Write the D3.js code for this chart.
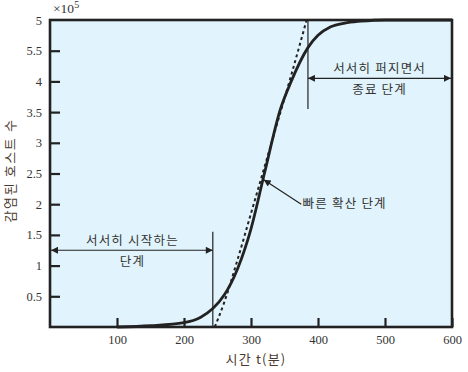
<!DOCTYPE html>
<html>
<head>
<meta charset="utf-8">
<script src="https://cdn.jsdelivr.net/npm/d3@7"></script>
<style>
  body { margin: 0; background: #fff; }
  .tick-label { font-family: "Liberation Serif", serif; font-size: 12.5px; fill: #333; }
  .kor { font-family: "Noto Sans CJK KR", sans-serif; font-size: 12.5px; letter-spacing: 1.2px; fill: #333; }
</style>
</head>
<body>
<svg id="chart" width="468" height="372"></svg>
<script>
// curve (units of 10^5 hosts)
const solidT = [100, 150, 200, 225, 243, 260, 280, 300, 320, 344, 360, 385, 400, 419, 440, 464, 500, 600];
const solidN = [0, 0.02, 0.07, 0.16, 0.3, 0.52, 0.95, 1.6, 2.5, 3.55, 4.0, 4.55, 4.75, 4.89, 4.95, 4.98, 5.0, 5.0];

// dashed straight-ish line through the fast phase
const dashT = [246, 260, 280, 300, 320, 340, 360, 383];
const dashN = [0, 0.4, 1.1, 1.85, 2.6, 3.35, 4.1, 5.0];

const xTicks = [100, 200, 300, 400, 500, 600];
const yTicks = [0.5, 1, 1.5, 2, 2.5, 3, 3.5, 4, 4.5, 5];
const yTickLabels = ["0.5", "1", "1.5", "2", "2.5", "3", "3.5", "4", "5.5", "5"];

const slowStart = 243;
const slowEnd = 385;

const margin = { top: 20, right: 16, bottom: 45, left: 50 };
const W = 468, H = 372;
const width = W - margin.left - margin.right;
const height = H - margin.top - margin.bottom;

const svg = d3.select("#chart");

svg.append("defs").append("marker")
	.attr("id", "arr")
	.attr("viewBox", "0 0 10 10")
	.attr("refX", 10)
	.attr("refY", 5)
	.attr("markerWidth", 9)
	.attr("markerHeight", 7)
	.attr("markerUnits", "userSpaceOnUse")
	.attr("orient", "auto-start-reverse")
	.append("path")
	.attr("d", "M0,0 L10,5 L0,10 Z")
	.attr("fill", "#222");

const g = svg.append("g")
	.attr("transform", `translate(${margin.left}, ${margin.top})`);

const x = d3.scaleLinear().domain([0, 600]).range([0, width]);
const y = d3.scaleLinear().domain([0, 5]).range([height, 0]);

g.append("rect")
	.attr("width", width)
	.attr("height", height)
	.attr("fill", "#e1f3fc");

// ticks pointing inward
const xAxis = g.append("g")
	.attr("transform", `translate(0, ${height})`)
	.call(d3.axisBottom(x).tickValues(xTicks).tickSize(-9).tickPadding(6).tickFormat(d3.format("d")));
xAxis.select(".domain").remove();
xAxis.selectAll("line").attr("stroke", "#222").attr("stroke-width", 2.2);
xAxis.selectAll("text").attr("class", "tick-label").attr("dy", "0.9em");

const yAxis = g.append("g")
	.call(d3.axisLeft(y).tickValues(yTicks).tickSize(-10).tickPadding(8)
		.tickFormat((d, i) => yTickLabels[i]));
yAxis.select(".domain").remove();
yAxis.selectAll("line").attr("stroke", "#222").attr("stroke-width", 2.2);
yAxis.selectAll("text").attr("class", "tick-label");
yAxis.selectAll(".tick").filter(d => d === 5).select("line").remove();

// frame
g.append("rect")
	.attr("width", width)
	.attr("height", height)
	.attr("fill", "none")
	.attr("stroke", "#222")
	.attr("stroke-width", 2.6);

svg.append("text")
	.attr("x", margin.left + 3)
	.attr("y", 13)
	.attr("class", "tick-label")
	.style("font-size", "13.5px")
	.html("×10<tspan dy='-5' font-size='10'>5</tspan>");

// phase markers
g.append("line")
	.attr("x1", x(slowStart)).attr("x2", x(slowStart))
	.attr("y1", y(1.55)).attr("y2", height)
	.attr("stroke", "#222").attr("stroke-width", 1.2);
g.append("line")
	.attr("x1", x(slowEnd)).attr("x2", x(slowEnd))
	.attr("y1", 0).attr("y2", y(3.55))
	.attr("stroke", "#222").attr("stroke-width", 1.2);

g.append("line")
	.attr("x1", x(slowStart)).attr("x2", 1)
	.attr("y1", y(1.25)).attr("y2", y(1.25))
	.attr("stroke", "#222").attr("stroke-width", 1.2)
	.attr("marker-end", "url(#arr)")
	.attr("marker-start", "url(#arr)");
g.append("line")
	.attr("x1", x(slowEnd)).attr("x2", width - 1)
	.attr("y1", y(4.05)).attr("y2", y(4.05))
	.attr("stroke", "#222").attr("stroke-width", 1.2)
	.attr("marker-end", "url(#arr)")
	.attr("marker-start", "url(#arr)");

const line = d3.line().x(d => x(d[0])).y(d => y(d[1])).curve(d3.curveMonotoneX);

g.append("path")
	.datum(dashT.map((t, i) => [t, dashN[i]]))
	.attr("d", line)
	.attr("fill", "none")
	.attr("stroke", "#222")
	.attr("stroke-width", 2)
	.attr("stroke-dasharray", "3,3");

g.append("path")
	.datum(solidT.map((t, i) => [t, solidN[i]]))
	.attr("d", line)
	.attr("fill", "none")
	.attr("stroke", "#222")
	.attr("stroke-width", 2.8);

// fast phase pointer
g.append("line")
	.attr("x1", x(375)).attr("y1", y(2.0))
	.attr("x2", x(319)).attr("y2", y(2.4))
	.attr("stroke", "#222").attr("stroke-width", 1.2)
	.attr("marker-end", "url(#arr)");

g.append("text").attr("class", "kor")
	.attr("x", x(377)).attr("y", y(2.0) + 4)
	.text("빠른 확산 단계");

g.append("text").attr("class", "kor")
	.attr("x", x(123)).attr("y", y(1.25) - 5)
	.attr("text-anchor", "middle")
	.text("서서히 시작하는");
g.append("text").attr("class", "kor")
	.attr("x", x(123)).attr("y", y(1.25) + 16)
	.attr("text-anchor", "middle")
	.text("단계");

g.append("text").attr("class", "kor")
	.attr("x", x(492)).attr("y", y(4.05) - 5)
	.attr("text-anchor", "middle")
	.text("서서히 퍼지면서");
g.append("text").attr("class", "kor")
	.attr("x", x(492)).attr("y", y(4.05) + 16)
	.attr("text-anchor", "middle")
	.text("종료 단계");

// axis titles
svg.append("text").attr("class", "kor")
	.attr("transform", `translate(15, ${margin.top + height / 2 - 3}) rotate(-90)`)
	.attr("text-anchor", "middle")
	.style("fill", "#4a3a30")
	.style("font-size", "13px")
	.style("letter-spacing", "1.6px")
	.text("감염된 호스트 수");

svg.append("text").attr("class", "kor")
	.attr("x", margin.left + width / 2 + 5)
	.attr("y", 364)
	.attr("text-anchor", "middle")
	.style("fill", "#4a3a30")
	.style("font-size", "13px")
	.text("시간 t(분)");
</script>
</body>
</html>
